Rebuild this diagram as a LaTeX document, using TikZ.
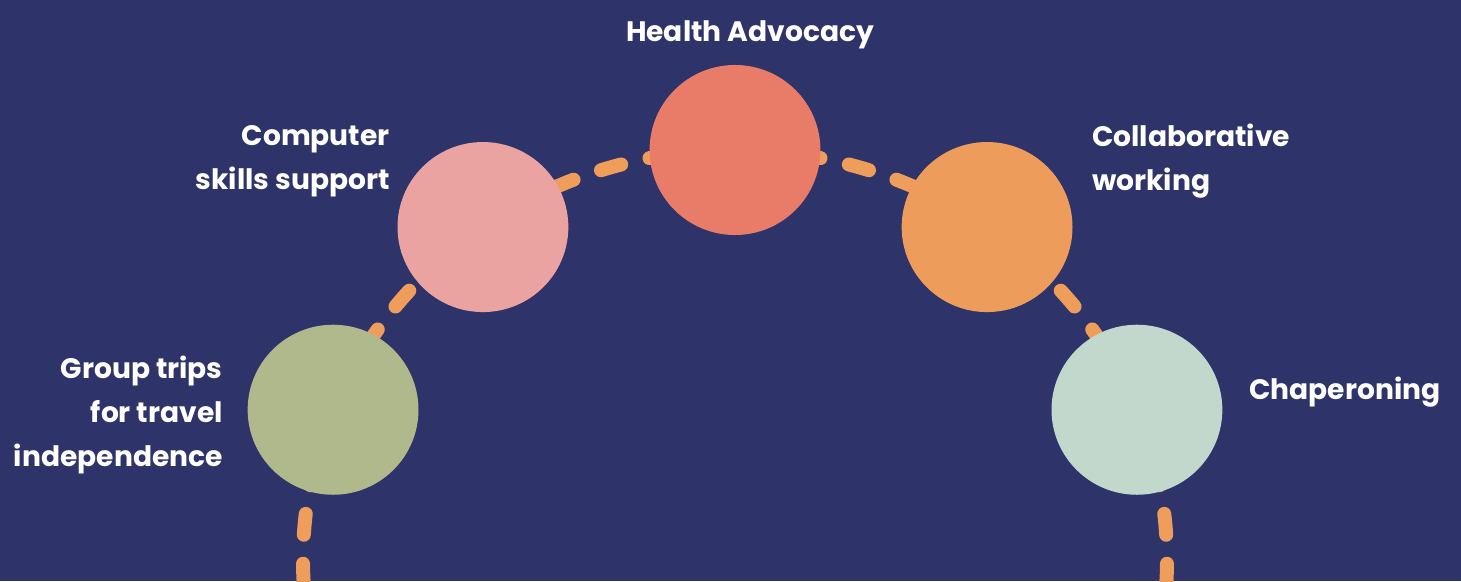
\documentclass[tikz,border=0pt]{standalone}
\usepackage{fontspec}
\setmainfont{Poppins}
\usetikzlibrary{shapes}
\definecolor{navy}{HTML}{2E3369}
\definecolor{sage}{HTML}{B0B98B}
\definecolor{rose}{HTML}{EBA3A2}
\definecolor{coral}{HTML}{E97C69}
\definecolor{apricot}{HTML}{EE9C5C}
\definecolor{mint}{HTML}{C2D8CD}
\definecolor{dashcol}{HTML}{EF9D5A}
\begin{document}
\begin{tikzpicture}[x=0.025cm, y=0.025cm,
  blob/.style={ellipse, inner sep=0, minimum width=4.27cm, minimum height=4.25cm},
  caption/.style={text=white, font=\fontsize{20}{31}\selectfont\bfseries, inner sep=0},
  arch/.style={draw=dashcol, line width=0.35cm, line cap=round, dash pattern=on 0.525cm off 0.725cm, dash phase=0.875cm}]

\fill[navy] (0,0) rectangle (1461,581);
\clip (0,0) rectangle (1461,581);

\coordinate (mid) at (735,21);
\coordinate (top) at ([shift={(90:432 and 410)}]mid);
\draw[arch] (top) arc[start angle=90, end angle=186, x radius=432, y radius=410] coordinate (archL);
\draw[arch] (top) arc[start angle=90, end angle=-6, x radius=432, y radius=410] coordinate (archR);

\foreach \name/\ang/\col in {trips/158.5/sage, computer/125.7/rose, health/90/coral, collab/54.3/apricot, chaperone/21.5/mint}
{\node[blob, fill=\col] (\name) at ([shift={(\ang:432 and 410)}]mid) {};}

\node[caption] (t-health) at (750,546) {Health Advocacy};
\node[caption, anchor=east, align=right] (t-computer) at (390,420) {Computer\\skills support};
\node[caption, anchor=west, align=left] (t-collab) at (1092,420) {Collaborative\\working};
\node[caption, anchor=east, align=right] (t-trips) at (223,166) {Group trips\\for travel\\independence};
\node[caption, anchor=west] (t-chap) at (1249,189) {Chaperoning};
\end{tikzpicture}
\end{document}
